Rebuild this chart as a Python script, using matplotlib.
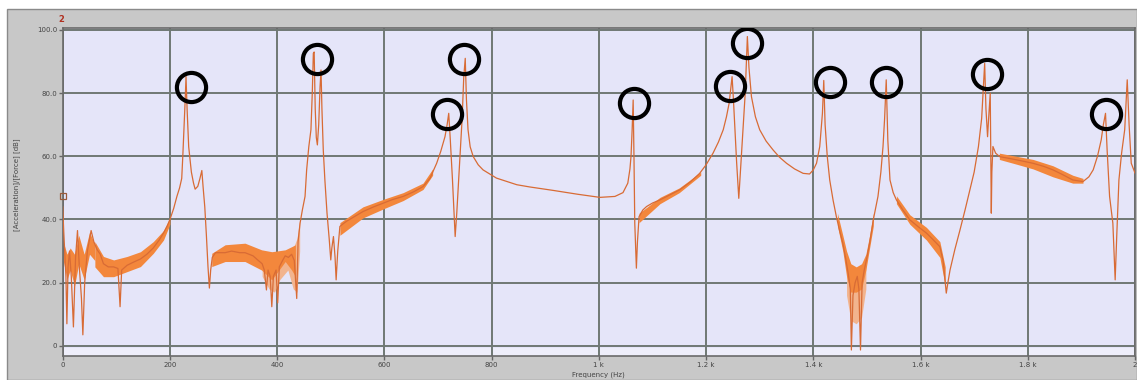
import matplotlib
matplotlib.use("Agg")
import matplotlib.pyplot as plt
from matplotlib.patches import Rectangle

# FRF trace: frequency (Hz) and level (dB)
freq_hz = [0, 2, 4, 6, 7.8, 10, 12.7, 16, 20, 24, 27.6, 31, 35, 37.6, 41, 46, 53, 58, 64, 70,
           76, 85, 95, 103, 107, 110, 120, 132, 145, 157, 169, 180, 188, 195, 200, 207, 213,
           218, 222, 224, 226.5, 228.5, 230, 232, 235, 240, 244, 247, 252, 256, 259.5, 262,
           265, 268, 271, 273.6, 276, 279, 285, 295, 303, 315, 330, 340, 355, 365, 372, 376,
           380, 383, 387, 390, 393, 398, 401, 404, 410, 415, 421, 427, 432, 436.5, 439, 442.7,
           447, 452, 455, 459, 463, 465.5, 467.5, 469, 471, 473, 475, 477.5, 480, 481.8, 483.5,
           486, 489, 493, 497, 500, 502, 505, 508, 510, 513, 517, 522, 530, 545, 560, 580, 598,
           615, 635, 655, 672, 685, 697.5, 705, 713, 717, 720, 723, 727, 730, 732, 735, 741,
           745, 748, 750.8, 753, 756, 760, 765.7, 775, 784, 809, 847, 871, 915, 960, 1002,
           1030, 1045, 1054, 1058, 1060, 1062, 1064, 1065.5, 1067, 1070, 1072, 1075, 1082,
           1089, 1100, 1114, 1130, 1151, 1170, 1188, 1200, 1213, 1223, 1232, 1238, 1243,
           1248.5, 1251, 1254, 1257, 1261, 1264, 1269, 1273, 1277, 1280, 1284.6, 1292, 1300,
           1312, 1325, 1337, 1350, 1365, 1381, 1393, 1400, 1406, 1412, 1417, 1419.5, 1422,
           1426, 1430.6, 1437, 1443, 1449, 1455, 1460, 1465, 1469, 1471, 1474, 1478, 1482,
           1485, 1488, 1491, 1495, 1500, 1505, 1512, 1520.6, 1526, 1530, 1533, 1536, 1539,
           1543, 1549, 1555, 1567, 1580, 1595, 1611, 1624, 1636, 1642, 1646, 1648, 1651, 1655,
           1664, 1673.6, 1683, 1692, 1700, 1708, 1714, 1719.6, 1722, 1725, 1727, 1730, 1731,
           1732, 1733, 1735, 1740, 1747.5, 1778.6, 1809.5, 1830, 1847, 1865, 1884, 1903, 1914,
           1922, 1930, 1937, 1941, 1945, 1948, 1952.6, 1958.7, 1963, 1966, 1970, 1975, 1980.8,
           1985.5, 1989, 1993, 2000]
level_db = [44, 36, 29, 22, 7, 25, 30, 22, 6, 28, 36.5, 25, 15, 3.5, 20, 30, 36.5, 33, 30.5, 29,
            26, 25, 25, 24.5, 12.4, 24, 25.5, 26.5, 27.5, 29, 31, 33.5, 35.7, 38, 40, 43.5, 47.3,
            50, 53, 60, 70, 78, 85.2, 75, 63, 55, 51.5, 49.6, 50.5, 53, 55.5, 50,
            44, 35, 25, 18.3, 24, 28, 29.5, 29.5, 29.5, 30, 29.5, 29.5, 28.5, 27, 26, 24,
            17.7, 24, 22, 12.4, 22, 24, 13.6, 25, 27, 28.5, 28, 29, 27, 15, 33, 38.8,
            43, 47.3, 55.7, 63, 68.4, 80, 92.6, 93, 75, 66, 63.6, 70, 82, 87.3, 75,
            62, 52.5, 42, 34, 27.2, 31, 34.6, 28, 20.9, 30, 37.8, 38.5, 39.5, 41, 42.5, 44, 45.2,
            46.3, 47.3, 48.8, 50.4, 53, 57.8, 61.5, 66.2, 70, 73.6, 65, 52.5, 42, 34.6, 42, 59.9,
            72, 85, 91, 78, 68.4, 63, 59.9, 57.3, 55.7, 53.1, 51, 50.3, 49.2, 48, 47.0,
            47.3, 48.5, 51.5, 56, 60, 68, 77.8, 60, 38.8, 24.6, 33, 40.9, 43,
            44.1, 45.2, 46.2, 47.6, 49.4, 51.8, 54.6, 57.3, 61, 64.5, 68.4, 72.5, 76.8,
            85.2, 78, 68, 58, 46.7, 55, 68.4, 80, 97.9, 88, 78.9, 72.5, 68.4,
            64.8, 62, 59.7, 57.8, 56, 54.6, 54.4, 55.7, 57.8, 63.1, 73.6, 84, 70,
            60, 52.5, 46, 40.9, 36.5, 32.5, 28, 23, 18, -1.3, 16, 20, 22,
            18, -1.3, 20, 24, 28, 32.5, 40, 47.3, 55, 63.1, 72, 84.2, 65,
            52.5, 48.5, 46.2, 43, 39.9, 37.8, 35.7, 33.5, 31.4, 27, 20, 16.7, 20, 24,
            30.5, 36.7, 43, 49.4, 55, 63.1, 72, 89.4, 75, 66.2, 72, 80, 60,
            42, 55, 63.1, 61, 59.9, 58.9, 57.8, 56.8, 55.7, 54.2, 52.5, 52, 53.5,
            55.7, 60, 65.2, 70, 73.6, 62, 47.3, 38.8, 20.9, 35, 52.5, 61, 68.4,
            84.2, 70, 57.8, 54.7]

# noisy spread of the trace (lower / upper envelope, dB)
band_0_hz = [1, 8, 14, 22, 30, 40, 50, 60]
band_0_lo = [27, 21, 24, 19, 26, 21, 29, 27]
band_0_hi = [33, 29, 31, 29, 35, 29, 36, 32]

band_a_hz = [60, 76, 95, 120, 145, 169, 188, 200]
band_a_lo = [25, 21.9, 21.9, 23.5, 25.1, 29.3, 33.5, 38.5]
band_a_hi = [33, 28.3, 27.2, 28.3, 29.8, 33, 36.5, 40.5]

band_b_hz = [278, 303, 340, 371, 390, 415, 427, 434]
band_b_lo = [25.1, 26.7, 26.7, 24, 20.9, 26.7, 24, 22]
band_b_hi = [29.3, 32, 32.5, 30.4, 29.8, 30.4, 31.4, 32]

band_c_hz = [517, 560, 600, 635, 672, 690]
band_c_lo = [35, 40.5, 43.5, 46, 49.5, 54]
band_c_hi = [39, 44, 46.5, 48.5, 51.5, 56]

band_d_hz = [1075, 1114, 1150, 1190]
band_d_lo = [39, 45, 48.5, 54]
band_d_hi = [42, 47, 50, 55]

band_e_hz = [1445, 1455, 1462, 1470, 1480, 1490, 1498, 1505, 1512]
band_e_lo = [38, 30, 22, 17, 17, 18, 24, 31, 38]
band_e_hi = [42, 35, 30, 26, 25, 26, 29, 35, 42]

band_f_hz = [1555, 1580, 1611, 1636, 1646]
band_f_lo = [45, 38.5, 33.5, 28, 19]
band_f_hi = [47.5, 41.5, 37.5, 33, 25]

band_g_hz = [1747, 1779, 1810, 1847, 1884, 1903]
band_g_lo = [59, 57.5, 56, 53.5, 51.5, 51.5]
band_g_hi = [61, 60, 59, 57, 54, 53]

# paler second trace showing under the noisy parts
pale_b_hz = [372, 385, 395, 405, 420, 430, 437, 442]
pale_b_lo = [22, 18, 17, 21, 24, 18, 17, 30]
pale_b_hi = [27, 26, 26, 27, 29, 31, 34, 40]

pale_e_hz = [1462, 1470, 1480, 1490, 1498]
pale_e_lo = [16, 8, 7, 9, 18]
pale_e_hi = [24, 22, 22, 22, 26]

# black circles marking the picked peaks
peak_hz = [239.5, 475, 717.3, 749, 1066, 1245.5, 1275.5, 1432, 1536, 1724, 1945]
peak_db = [82.0, 90.7, 73.4, 90.7, 76.9, 82.1, 95.8, 83.6, 83.6, 86.2, 73.4]

x_ticks = [0, 200, 400, 600, 800, 1000, 1200, 1400, 1600, 1800, 2000]
x_labels = ["0", "200", "400", "600", "800", "1 k", "1.2 k", "1.4 k", "1.6 k", "1.8 k", "2"]
y_ticks = [0, 20, 40, 60, 80, 100]
y_labels = ["0", "20.0", "40.0", "60.0", "80.0", "100.0"]

W, H = 1137, 380
fig = plt.figure(figsize=(W / 100, H / 100), dpi=100)
fig.patch.set_facecolor("white")
fig.add_artist(Rectangle((7 / W, 0), 1 - 7 / W, 1 - 9 / H, transform=fig.transFigure,
                         facecolor="#c8c8c8", edgecolor="#8a8a8a", lw=1, zorder=-10))

ax = fig.add_axes([62.7 / W, 1 - 356 / H, (1135 - 62.7) / W, (356 - 28) / H])
ax.set_facecolor("#e5e5f9")
ax.set_xlim(0, 2000)
ax.set_ylim(-3.2, 100.6)
ax.axhspan(-3.2, -0.8, color="#eeeefa", lw=0, zorder=0)

ax.set_xticks(x_ticks)
ax.set_xticklabels(x_labels)
ax.set_yticks(y_ticks)
ax.set_yticklabels(y_labels)
ax.tick_params(length=3, width=1, colors="#666666", labelsize=5, pad=1, labelcolor="#444444")
ax.grid(True, color="#6f7874", lw=1.4)
ax.set_axisbelow(True)
for s in ax.spines.values():
    s.set_color("#6a6a6a")
    s.set_linewidth(1.2)

for bf, lo, hi in [(pale_b_hz, pale_b_lo, pale_b_hi), (pale_e_hz, pale_e_lo, pale_e_hi)]:
    ax.fill_between(bf, lo, hi, color="#f2b48e", lw=0, zorder=1.8)

for bf, lo, hi in [(band_0_hz, band_0_lo, band_0_hi),
                   (band_a_hz, band_a_lo, band_a_hi), (band_b_hz, band_b_lo, band_b_hi),
                   (band_c_hz, band_c_lo, band_c_hi), (band_d_hz, band_d_lo, band_d_hi),
                   (band_e_hz, band_e_lo, band_e_hi), (band_f_hz, band_f_lo, band_f_hi),
                   (band_g_hz, band_g_lo, band_g_hi)]:
    ax.fill_between(bf, lo, hi, color="#f3873c", lw=0, zorder=2)

ax.plot(freq_hz, level_db, color="#d86b35", lw=0.9, zorder=3)
ax.plot([0], [47.5], "s", mfc="none", mec="#9a5a3a", ms=5, mew=0.9, clip_on=False, zorder=4)
ax.plot(peak_hz, peak_db, "o", mfc="none", mec="black", ms=21, mew=3, zorder=5)

fig.text(17 / W, 1 - 185 / H, "[Acceleration]/[Force] [dB]", rotation=90,
         fontsize=5, color="#444444", ha="center", va="center")
fig.text(598 / W, 1 - 375 / H, "Frequency (Hz)", fontsize=5, color="#444444",
         ha="center", va="center")
fig.text(61 / W, 1 - 20 / H, "2", fontsize=6, color="#b03020", weight="bold",
         ha="center", va="center")

fig.savefig("out.png", dpi=100)
